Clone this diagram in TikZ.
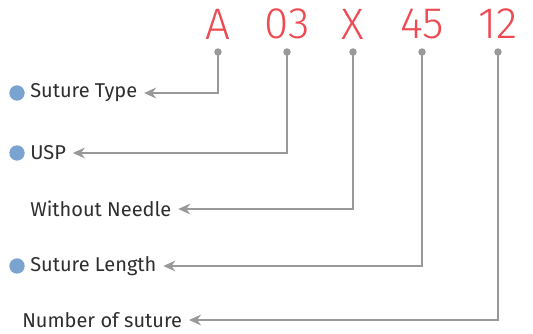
\documentclass[tikz,border=0pt]{standalone}
\usepackage{fontspec}
\setmainfont{Fira Sans}
\newfontfamily\codefont{Fira Sans Light}
\usetikzlibrary{arrows.meta}

\definecolor{codered}{HTML}{EE4A52}
\definecolor{linegray}{HTML}{999999}
\definecolor{dotblue}{HTML}{7BA3CF}
\definecolor{textgray}{HTML}{2E2E2E}

\tikzset{
  code/.style={text=codered, font=\codefont\fontsize{33}{35}\selectfont, inner sep=0pt},
  label/.style={text=textgray, font=\fontsize{15}{17}\selectfont, anchor=west, inner sep=0pt},
  lead/.style={draw=linegray, line width=1.7pt, -{Stealth[length=9pt,width=8pt]}},
  pin/.style={fill=linegray, draw=none},
  bullet/.style={circle, fill=dotblue, minimum size=11.5pt, inner sep=0pt}
}

\begin{document}
\begin{tikzpicture}[x=0.75pt, y=-0.75pt]
  \useasboundingbox (0,0) rectangle (533,333);

  % code letters
  \node[code] (cA) at (218,24) {A};
  \node[code] (c03) at (287,24) {03};
  \node[code] (cX) at (353,24) {X};
  \node[code] (c45) at (422,24) {45};
  \node[code] (c12) at (498,24) {12};

  % pins
  \coordinate (pA) at (218,52);
  \coordinate (p03) at (287,52);
  \coordinate (pX) at (353,52);
  \coordinate (p45) at (422,52);
  \coordinate (p12) at (498,52);

  % labels
  \node[label] (type) at (30,93) {Suture Type};
  \node[label] (usp) at (30,153) {USP};
  \node[label] (needle) at (30,209) {Without Needle};
  \node[label] (length) at (30,266) {Suture Length};
  \node[label] (number) at (22,320) {Number of suture};

  \node[bullet] (bt) at (17,93) {};
  \node[bullet] (bu) at (17,153) {};
  \node[bullet] (bl) at (17,266) {};

  % leads
  \draw[lead] (pA) |- ([xshift=5pt]type.east);
  \draw[lead] (p03) |- ([xshift=5pt]usp.east);
  \draw[lead] (pX) |- ([xshift=5pt]needle.east);
  \draw[lead] (p45) |- ([xshift=5pt]length.east);
  \draw[lead] (p12) |- ([xshift=5pt]number.east);

  \foreach \p in {pA,p03,pX,p45,p12}
    \fill[pin] (\p) circle (2.8pt);
\end{tikzpicture}
\end{document}
